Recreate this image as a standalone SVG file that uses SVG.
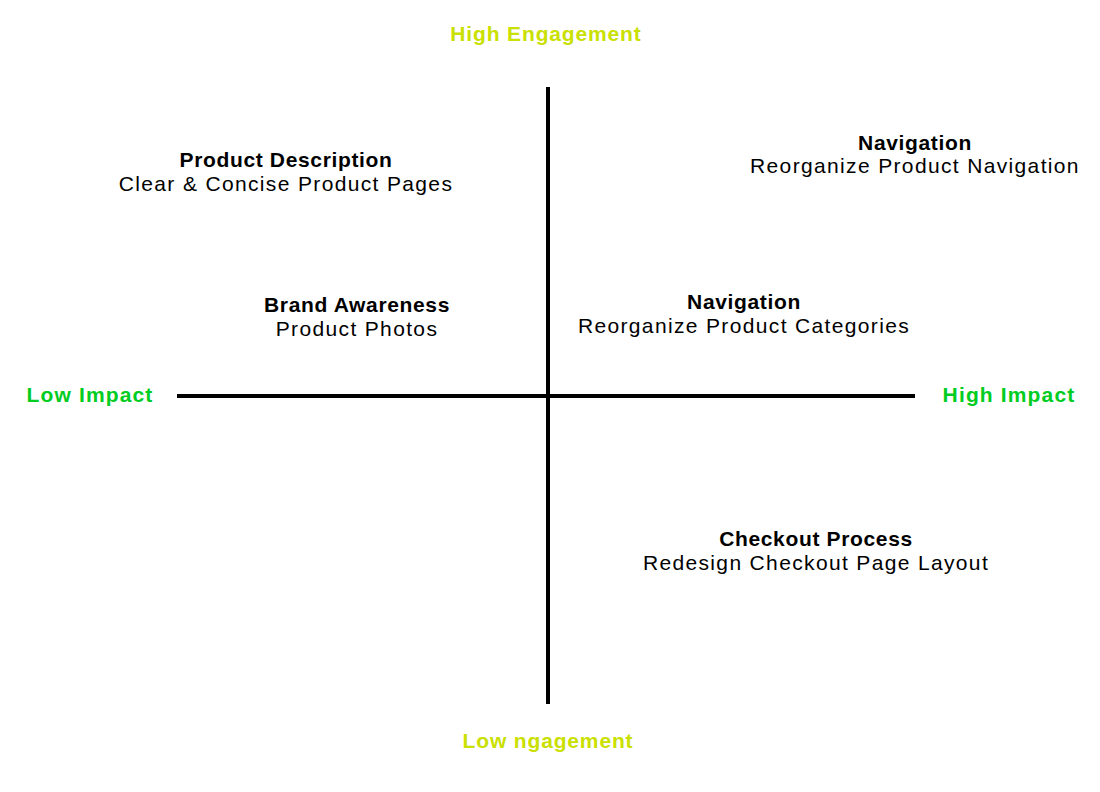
<svg xmlns="http://www.w3.org/2000/svg" width="1100" height="792" viewBox="0 0 1100 792">
<style>
text{font-family:"Liberation Sans",Arial,sans-serif;text-anchor:middle;font-size:21px}
.t{font-weight:bold;fill:#000;letter-spacing:0.65px}
.s{fill:#000;letter-spacing:1.35px}
.y{font-weight:bold;fill:#c9e000;letter-spacing:0.85px}
.g{font-weight:bold;fill:#00cc22;letter-spacing:1.15px}
.ax{stroke:#000;stroke-width:4;fill:none}
</style>
<rect width="1100" height="792" fill="#fff"/>
<g id="axes">
<line class="ax" x1="548" y1="87" x2="548" y2="704"/>
<line class="ax" x1="177" y1="396" x2="915" y2="396"/>
</g>
<g id="axis-labels">
<text class="y" x="546" y="41">High Engagement</text>
<text class="y" x="548" y="748">Low ngagement</text>
<text class="g" x="90" y="402">Low Impact</text>
<text class="g" x="1009" y="402">High Impact</text>
</g>
<g id="node-product-description">
<text class="t" x="286" y="167">Product Description</text>
<text class="s" x="286" y="191">Clear &amp; Concise Product Pages</text>
</g>
<g id="node-navigation-1">
<text class="t" x="915" y="150">Navigation</text>
<text class="s" x="915" y="173">Reorganize Product Navigation</text>
</g>
<g id="node-brand-awareness">
<text class="t" x="357" y="312">Brand Awareness</text>
<text class="s" x="357" y="336">Product Photos</text>
</g>
<g id="node-navigation-2">
<text class="t" x="744" y="309">Navigation</text>
<text class="s" x="744" y="333">Reorganize Product Categories</text>
</g>
<g id="node-checkout">
<text class="t" x="816" y="546">Checkout Process</text>
<text class="s" x="816" y="570">Redesign Checkout Page Layout</text>
</g>
</svg>
